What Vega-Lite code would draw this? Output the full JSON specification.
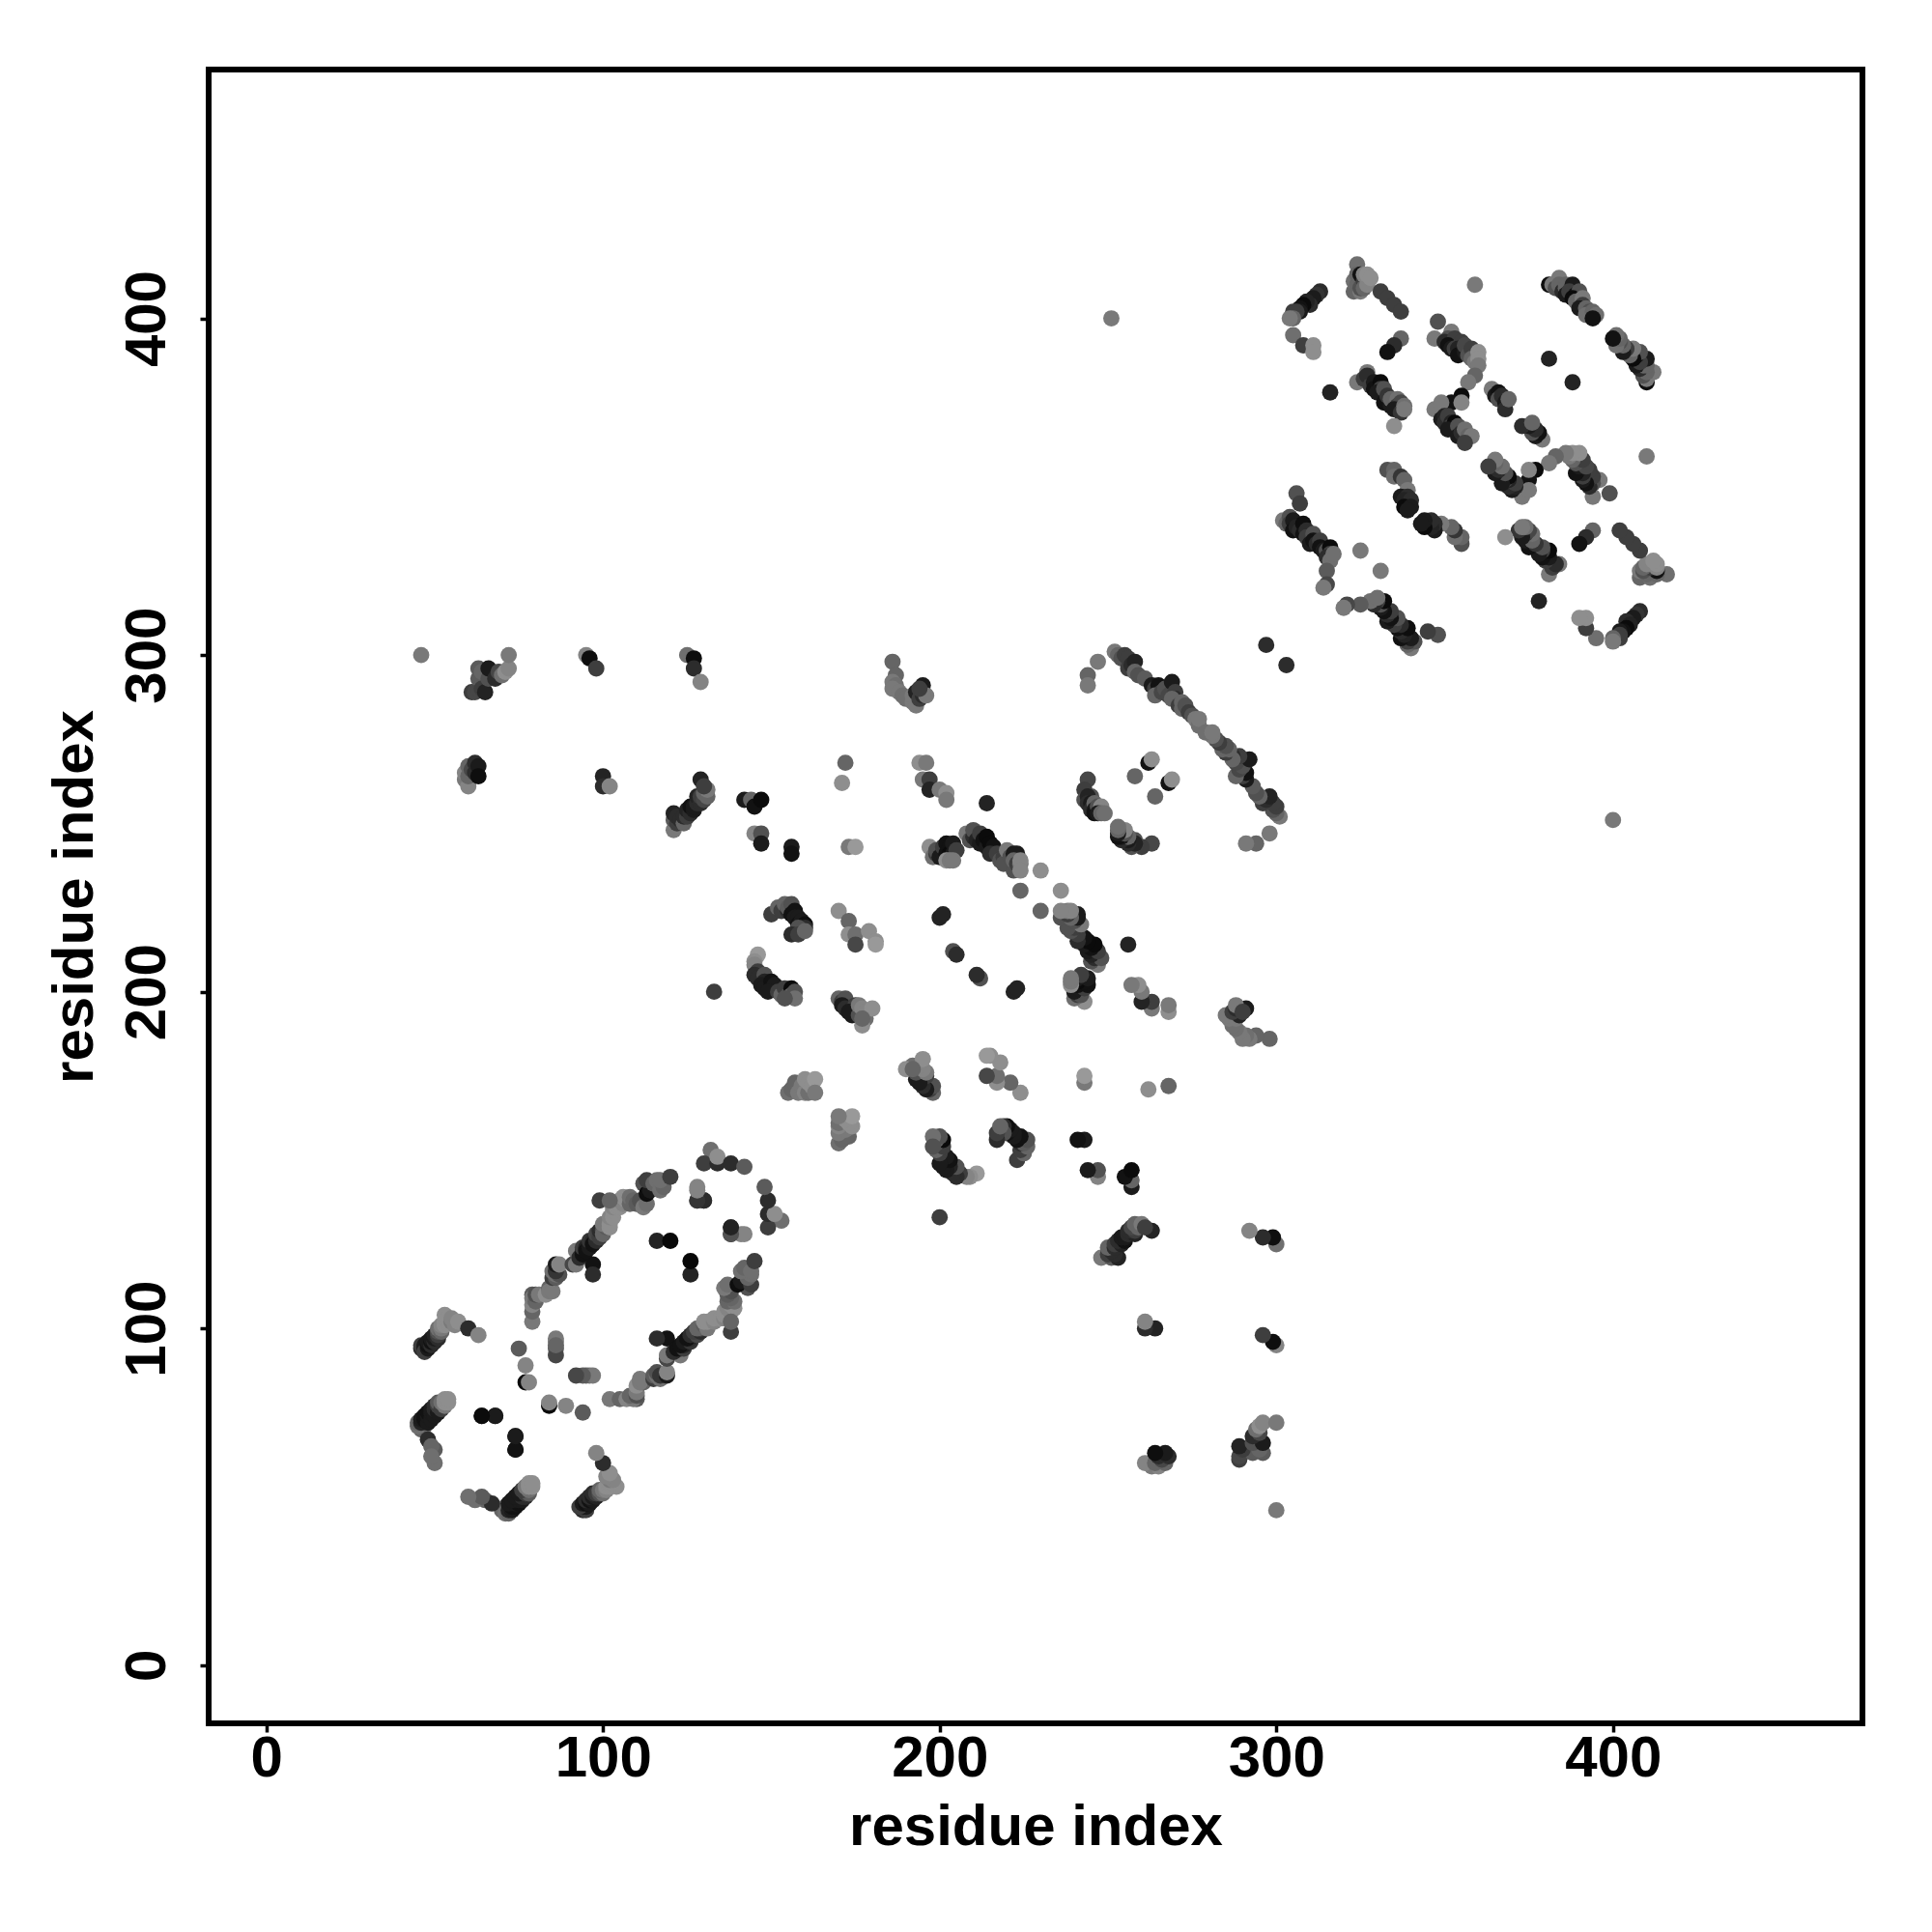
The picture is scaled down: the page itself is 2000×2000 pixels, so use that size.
{"$schema":"https://vega.github.io/schema/vega-lite/v6.json","width":1712,"height":1712,"autosize":{"type":"none"},"padding":{"left":216,"top":72,"right":72,"bottom":216},"background":"white",
"config":{"view":{"stroke":"black","strokeWidth":6},"axis":{"grid":false,"domain":false,"labelFont":"Liberation Sans","labelFontWeight":"bold","labelFontSize":60,"labelColor":"black","titleFont":"Liberation Sans","titleFontWeight":"bold","titleFontSize":60,"titleColor":"black","tickColor":"black","tickWidth":3.5,"tickSize":9}},
"data":{"values":[
{"i":46,"j":94,"d":0.2},{"i":46,"j":95,"d":0.3},{"i":47,"j":94,"d":0.1},{"i":47,"j":95,"d":0.1},{"i":47,"j":93,"d":0.3},{"i":48,"j":94,"d":0.1},{"i":48,"j":95,"d":0.05},{"i":48,"j":96,"d":0.1},{"i":49,"j":95,"d":0.2},{"i":49,"j":96,"d":0.05},{"i":49,"j":97,"d":0.1},{"i":50,"j":96,"d":0.2},{"i":50,"j":97,"d":0.1},{"i":50,"j":98,"d":0.15},{"i":51,"j":97,"d":0.2},{"i":51,"j":98,"d":0.3},{"i":51,"j":99,"d":0.4},{"i":51,"j":100,"d":0.55},{"i":52,"j":99,"d":0.5},{"i":52,"j":100,"d":0.6},{"i":52,"j":101,"d":0.65},{"i":53,"j":101,"d":0.7},{"i":53,"j":102,"d":0.7},{"i":53,"j":104,"d":0.7},{"i":54,"j":102,"d":0.7},{"i":54,"j":103,"d":0.7},{"i":55,"j":102,"d":0.6},{"i":55,"j":103,"d":0.65},{"i":56,"j":101,"d":0.65},{"i":57,"j":102,"d":0.7},{"i":60,"j":100,"d":0.2},{"i":63,"j":98,"d":0.65},
{"i":46,"j":70,"d":0.5},{"i":47,"j":71,"d":0.5},{"i":45,"j":71,"d":0.55},{"i":45,"j":72,"d":0.5},{"i":46,"j":72,"d":0.15},{"i":46,"j":73,"d":0.1},{"i":47,"j":73,"d":0.05},{"i":47,"j":74,"d":0.05},{"i":48,"j":72,"d":0.1},{"i":48,"j":74,"d":0.1},{"i":48,"j":75,"d":0.05},{"i":49,"j":73,"d":0.1},{"i":49,"j":75,"d":0.1},{"i":49,"j":76,"d":0.1},{"i":50,"j":74,"d":0.1},{"i":50,"j":76,"d":0.2},{"i":50,"j":77,"d":0.2},{"i":51,"j":75,"d":0.1},{"i":51,"j":77,"d":0.3},{"i":51,"j":78,"d":0.45},{"i":52,"j":76,"d":0.3},{"i":52,"j":78,"d":0.55},{"i":53,"j":77,"d":0.6},{"i":53,"j":78,"d":0.7},{"i":53,"j":79,"d":0.7},{"i":54,"j":78,"d":0.7},{"i":54,"j":79,"d":0.7},{"i":48,"j":67,"d":0.2},{"i":50,"j":64,"d":0.45},{"i":50,"j":60,"d":0.55},{"i":64,"j":74,"d":0.05},{"i":68,"j":74,"d":0.1},{"i":74,"j":68,"d":0.1},{"i":74,"j":64,"d":0.02},
{"i":75,"j":94,"d":0.45},{"i":77,"j":84,"d":0.02},{"i":77,"j":89,"d":0.65},{"i":78,"j":84,"d":0.65},{"i":86,"j":97,"d":0.6},{"i":86,"j":94,"d":0.45},{"i":86,"j":92,"d":0.35},
{"i":79,"j":102,"d":0.6},{"i":79,"j":105,"d":0.5},{"i":79,"j":107,"d":0.65},{"i":79,"j":110,"d":0.45},{"i":79,"j":109,"d":0.6},{"i":80,"j":108,"d":0.5},{"i":80,"j":110,"d":0.4},{"i":81,"j":110,"d":0.6},{"i":83,"j":110,"d":0.7},{"i":84,"j":112,"d":0.5},{"i":84,"j":111,"d":0.6},{"i":85,"j":111,"d":0.6},{"i":85,"j":115,"d":0.3},{"i":86,"j":115,"d":0.45},{"i":86,"j":116,"d":0.55},{"i":85,"j":117,"d":0.55},{"i":87,"j":116,"d":0.4},{"i":86,"j":117,"d":0.25},{"i":86,"j":119,"d":0.1},{"i":87,"j":119,"d":0.65},{"i":91,"j":119,"d":0.35},{"i":92,"j":119,"d":0.6},{"i":92,"j":123,"d":0.6},{"i":97,"j":119,"d":0.05},{"i":97,"j":116,"d":0.2},
{"i":93,"j":121,"d":0.2},{"i":94,"j":123,"d":0.1},{"i":94,"j":122,"d":0.05},{"i":94,"j":124,"d":0.3},{"i":95,"j":124,"d":0.15},{"i":95,"j":123,"d":0.05},{"i":96,"j":125,"d":0.05},{"i":96,"j":124,"d":0.1},{"i":96,"j":126,"d":0.25},{"i":97,"j":126,"d":0.2},{"i":97,"j":125,"d":0.05},{"i":98,"j":127,"d":0.1},{"i":98,"j":126,"d":0.2},{"i":98,"j":128,"d":0.35},{"i":99,"j":128,"d":0.35},{"i":99,"j":127,"d":0.3},{"i":99,"j":129,"d":0.2},{"i":100,"j":129,"d":0.4},{"i":100,"j":128,"d":0.5},{"i":101,"j":130,"d":0.45},{"i":100,"j":131,"d":0.6},{"i":102,"j":130,"d":0.7},{"i":102,"j":131,"d":0.7},{"i":102,"j":133,"d":0.65},{"i":103,"j":133,"d":0.7},{"i":103,"j":135,"d":0.7},{"i":103,"j":136,"d":0.65},{"i":104,"j":136,"d":0.7},{"i":105,"j":136,"d":0.7},{"i":105,"j":138,"d":0.65},{"i":106,"j":137,"d":0.65},{"i":106,"j":139,"d":0.7},{"i":107,"j":138,"d":0.7},{"i":99,"j":138,"d":0.3},{"i":102,"j":138,"d":0.5},{"i":108,"j":137,"d":0.5},{"i":108,"j":139,"d":0.55},{"i":109,"j":138,"d":0.5},{"i":110,"j":137,"d":0.45},{"i":111,"j":138,"d":0.4},{"i":112,"j":136,"d":0.6},{"i":113,"j":137,"d":0.55},{"i":112,"j":143,"d":0.4},{"i":113,"j":140,"d":0.03},{"i":114,"j":141,"d":0.1},{"i":113,"j":144,"d":0.3},{"i":115,"j":143,"d":0.5},{"i":116,"j":144,"d":0.55},{"i":117,"j":141,"d":0.55},{"i":118,"j":142,"d":0.5},{"i":117,"j":144,"d":0.55},{"i":120,"j":145,"d":0.3},
{"i":128,"j":142,"d":0.65},{"i":128,"j":138,"d":0.4},{"i":130,"j":138,"d":0.15},{"i":116,"j":126,"d":0.15},{"i":120,"j":126,"d":0.01},{"i":132,"j":153,"d":0.55},{"i":130,"j":149,"d":0.3},{"i":134,"j":149,"d":0.2},{"i":134,"j":151,"d":0.7},{"i":138,"j":149,"d":0.2},{"i":142,"j":148,"d":0.45},{"i":138,"j":130,"d":0.2},{"i":138,"j":128,"d":0.25},{"i":141,"j":128,"d":0.65},
{"i":46,"j":300,"d":0.6},{"i":61,"j":289,"d":0.3},{"i":62,"j":289,"d":0.35},{"i":63,"j":290,"d":0.35},{"i":63,"j":293,"d":0.45},{"i":63,"j":296,"d":0.45},{"i":64,"j":290,"d":0.3},{"i":64,"j":295,"d":0.5},{"i":65,"j":289,"d":0.15},{"i":66,"j":293,"d":0.4},{"i":66,"j":296,"d":0.1},{"i":68,"j":293,"d":0.2},{"i":69,"j":295,"d":0.35},{"i":70,"j":294,"d":0.55},{"i":71,"j":295,"d":0.7},{"i":72,"j":296,"d":0.65},{"i":72,"j":300,"d":0.6},
{"i":59,"j":263,"d":0.6},{"i":59,"j":265,"d":0.65},{"i":60,"j":261,"d":0.65},{"i":60,"j":264,"d":0.5},{"i":60,"j":267,"d":0.5},{"i":61,"j":266,"d":0.35},{"i":62,"j":265,"d":0.2},{"i":62,"j":268,"d":0.2},{"i":63,"j":267,"d":0.1},{"i":63,"j":264,"d":0.03},{"i":95,"j":300,"d":0.65},{"i":96,"j":299,"d":0.03},{"i":98,"j":296,"d":0.3},{"i":100,"j":264,"d":0.15},{"i":100,"j":261,"d":0.2},{"i":102,"j":261,"d":0.65},{"i":125,"j":300,"d":0.55},{"i":127,"j":299,"d":0.03},{"i":127,"j":296,"d":0.2},{"i":129,"j":292,"d":0.65},
{"i":121,"j":248,"d":0.6},{"i":121,"j":251,"d":0.45},{"i":121,"j":253,"d":0.15},{"i":122,"j":250,"d":0.3},{"i":122,"j":252,"d":0.2},{"i":123,"j":251,"d":0.2},{"i":124,"j":250,"d":0.5},{"i":124,"j":252,"d":0.2},{"i":125,"j":252,"d":0.3},{"i":125,"j":254,"d":0.15},{"i":126,"j":253,"d":0.2},{"i":126,"j":255,"d":0.05},{"i":127,"j":254,"d":0.1},{"i":127,"j":255,"d":0.1},{"i":128,"j":256,"d":0.2},{"i":128,"j":258,"d":0.15},{"i":129,"j":256,"d":0.2},{"i":129,"j":258,"d":0.3},{"i":130,"j":257,"d":0.35},{"i":130,"j":259,"d":0.5},{"i":131,"j":258,"d":0.5},{"i":131,"j":260,"d":0.6},{"i":129,"j":263,"d":0.15},{"i":130,"j":261,"d":0.3},
{"i":142,"j":257,"d":0.1},{"i":144,"j":257,"d":0.5},{"i":145,"j":255,"d":0.05},{"i":147,"j":257,"d":0.02},{"i":145,"j":247,"d":0.65},{"i":147,"j":247,"d":0.4},{"i":147,"j":244,"d":0.1},{"i":156,"j":243,"d":0.1},{"i":156,"j":241,"d":0.05},{"i":172,"j":268,"d":0.5},{"i":171,"j":262,"d":0.7},{"i":173,"j":243,"d":0.6},{"i":175,"j":243,"d":0.75},
{"i":194,"j":268,"d":0.7},{"i":196,"j":268,"d":0.6},{"i":195,"j":263,"d":0.6},{"i":197,"j":263,"d":0.3},{"i":197,"j":260,"d":0.15},{"i":200,"j":260,"d":0.6},{"i":202,"j":259,"d":0.7},{"i":202,"j":257,"d":0.6},{"i":214,"j":256,"d":0.15},
{"i":197,"j":243,"d":0.7},{"i":198,"j":240,"d":0.55},{"i":199,"j":241,"d":0.3},{"i":199,"j":242,"d":0.4},{"i":200,"j":240,"d":0.1},{"i":201,"j":241,"d":0.1},{"i":201,"j":243,"d":0.3},{"i":202,"j":241,"d":0.05},{"i":202,"j":244,"d":0.05},{"i":203,"j":243,"d":0.05},{"i":203,"j":241,"d":0.02},{"i":204,"j":244,"d":0.1},{"i":204,"j":241,"d":0.1},{"i":205,"j":242,"d":0.3},{"i":202,"j":239,"d":0.7},{"i":203,"j":239,"d":0.6},{"i":204,"j":239,"d":0.6},
{"i":208,"j":247,"d":0.6},{"i":209,"j":245,"d":0.4},{"i":210,"j":246,"d":0.2},{"i":210,"j":248,"d":0.4},{"i":211,"j":245,"d":0.15},{"i":212,"j":244,"d":0.1},{"i":212,"j":247,"d":0.3},{"i":213,"j":245,"d":0.05},{"i":214,"j":243,"d":0.1},{"i":214,"j":246,"d":0.02},{"i":215,"j":244,"d":0.02},{"i":216,"j":242,"d":0.1},{"i":216,"j":243,"d":0.05},{"i":215,"j":241,"d":0.2},{"i":217,"j":241,"d":0.3},{"i":218,"j":239,"d":0.4},{"i":219,"j":240,"d":0.3},{"i":219,"j":238,"d":0.4},{"i":220,"j":242,"d":0.6},{"i":221,"j":240,"d":0.4},{"i":222,"j":241,"d":0.1},{"i":223,"j":241,"d":0.1},{"i":222,"j":236,"d":0.4},{"i":222,"j":239,"d":0.5},{"i":223,"j":238,"d":0.3},{"i":224,"j":238,"d":0.6},{"i":224,"j":239,"d":0.65},{"i":224,"j":236,"d":0.65},{"i":230,"j":236,"d":0.7},{"i":224,"j":230,"d":0.5},
{"i":150,"j":223,"d":0.3},{"i":152,"j":225,"d":0.5},{"i":153,"j":224,"d":0.3},{"i":154,"j":226,"d":0.5},{"i":155,"j":224,"d":0.2},{"i":155,"j":225,"d":0.45},{"i":156,"j":226,"d":0.4},{"i":156,"j":223,"d":0.05},{"i":157,"j":224,"d":0.05},{"i":157,"j":222,"d":0.1},{"i":158,"j":222,"d":0.1},{"i":158,"j":220,"d":0.05},{"i":159,"j":219,"d":0.03},{"i":159,"j":221,"d":0.1},{"i":160,"j":220,"d":0.03},{"i":160,"j":219,"d":0.2},{"i":158,"j":219,"d":0.4},{"i":156,"j":217,"d":0.2},{"i":158,"j":217,"d":0.3},{"i":160,"j":218,"d":0.5},
{"i":170,"j":224,"d":0.7},{"i":173,"j":221,"d":0.5},{"i":173,"j":217,"d":0.7},{"i":175,"j":217,"d":0.55},{"i":175,"j":214,"d":0.35},{"i":179,"j":218,"d":0.7},{"i":181,"j":215,"d":0.7},{"i":181,"j":214,"d":0.75},
{"i":146,"j":211,"d":0.75},{"i":145,"j":209,"d":0.7},{"i":145,"j":208,"d":0.65},{"i":146,"j":206,"d":0.3},{"i":145,"j":205,"d":0.2},{"i":146,"j":204,"d":0.2},{"i":148,"j":205,"d":0.4},{"i":148,"j":203,"d":0.15},{"i":147,"j":202,"d":0.1},{"i":148,"j":201,"d":0.1},{"i":150,"j":203,"d":0.05},{"i":150,"j":201,"d":0.05},{"i":151,"j":202,"d":0.1},{"i":149,"j":200,"d":0.1},{"i":152,"j":200,"d":0.3},{"i":153,"j":199,"d":0.5},{"i":154,"j":201,"d":0.3},{"i":155,"j":199,"d":0.4},{"i":156,"j":201,"d":0.02},{"i":156,"j":199,"d":0.5},{"i":157,"j":200,"d":0.4},{"i":157,"j":198,"d":0.55},{"i":154,"j":198,"d":0.4},{"i":133,"j":200,"d":0.3},
{"i":170,"j":198,"d":0.5},{"i":171,"j":197,"d":0.3},{"i":172,"j":198,"d":0.4},{"i":171,"j":196,"d":0.1},{"i":172,"j":195,"d":0.2},{"i":174,"j":195,"d":0.2},{"i":174,"j":193,"d":0.1},{"i":175,"j":196,"d":0.3},{"i":175,"j":194,"d":0.3},{"i":173,"j":194,"d":0.1},{"i":176,"j":193,"d":0.4},{"i":176,"j":196,"d":0.6},{"i":177,"j":195,"d":0.65},{"i":178,"j":194,"d":0.65},{"i":178,"j":192,"d":0.55},{"i":180,"j":195,"d":0.7},{"i":177,"j":190,"d":0.7},{"i":177,"j":192,"d":0.5},
{"i":155,"j":170,"d":0.55},{"i":156,"j":171,"d":0.5},{"i":157,"j":173,"d":0.5},{"i":158,"j":170,"d":0.6},{"i":159,"j":172,"d":0.6},{"i":160,"j":170,"d":0.65},{"i":160,"j":174,"d":0.7},{"i":161,"j":170,"d":0.55},{"i":161,"j":173,"d":0.7},{"i":162,"j":172,"d":0.7},{"i":163,"j":174,"d":0.75},{"i":163,"j":170,"d":0.6},
{"i":244,"j":263,"d":0.35},{"i":243,"j":260,"d":0.3},{"i":243,"j":257,"d":0.4},{"i":245,"j":258,"d":0.4},{"i":244,"j":258,"d":0.15},{"i":244,"j":256,"d":0.2},{"i":245,"j":256,"d":0.1},{"i":245,"j":254,"d":0.2},{"i":246,"j":256,"d":0.5},{"i":246,"j":254,"d":0.1},{"i":246,"j":253,"d":0.05},{"i":247,"j":255,"d":0.4},{"i":248,"j":255,"d":0.65},{"i":247,"j":253,"d":0.1},{"i":248,"j":253,"d":0.5},{"i":249,"j":253,"d":0.55},{"i":258,"j":264,"d":0.5},{"i":262,"j":268,"d":0.05},{"i":263,"j":269,"d":0.7},
{"i":252,"j":301,"d":0.6},{"i":253,"j":300,"d":0.5},{"i":254,"j":299,"d":0.4},{"i":255,"j":300,"d":0.3},{"i":256,"j":299,"d":0.3},{"i":256,"j":296,"d":0.3},{"i":257,"j":297,"d":0.2},{"i":258,"j":298,"d":0.15},{"i":258,"j":295,"d":0.5},{"i":259,"j":294,"d":0.4},{"i":261,"j":293,"d":0.45},{"i":263,"j":291,"d":0.1},{"i":264,"j":290,"d":0.3},{"i":265,"j":291,"d":0.05},{"i":264,"j":288,"d":0.5},{"i":266,"j":289,"d":0.35},{"i":267,"j":290,"d":0.4},{"i":268,"j":288,"d":0.35},{"i":269,"j":292,"d":0.1},{"i":270,"j":289,"d":0.3},{"i":270,"j":287,"d":0.2},{"i":269,"j":287,"d":0.5},{"i":271,"j":285,"d":0.3},{"i":272,"j":286,"d":0.5},{"i":272,"j":284,"d":0.5},{"i":273,"j":285,"d":0.4},{"i":274,"j":283,"d":0.3},{"i":275,"j":282,"d":0.4},{"i":276,"j":281,"d":0.6},{"i":277,"j":279,"d":0.55},{"i":277,"j":281,"d":0.6},
{"i":244,"j":294,"d":0.5},{"i":247,"j":298,"d":0.6},{"i":244,"j":291,"d":0.6},
{"i":186,"j":298,"d":0.5},{"i":187,"j":294,"d":0.5},{"i":186,"j":292,"d":0.6},{"i":187,"j":291,"d":0.55},{"i":186,"j":290,"d":0.6},{"i":188,"j":289,"d":0.6},{"i":189,"j":288,"d":0.55},{"i":190,"j":287,"d":0.55},{"i":192,"j":286,"d":0.6},{"i":193,"j":285,"d":0.6},{"i":192,"j":288,"d":0.6},{"i":193,"j":289,"d":0.15},{"i":195,"j":291,"d":0.1},{"i":194,"j":287,"d":0.3},{"i":195,"j":288,"d":0.2},{"i":196,"j":288,"d":0.6},{"i":194,"j":290,"d":0.3},
{"i":313,"j":408,"d":0.2},{"i":312,"j":407,"d":0.25},{"i":311,"j":406,"d":0.1},{"i":310,"j":404,"d":0.2},{"i":309,"j":405,"d":0.15},{"i":308,"j":404,"d":0.02},{"i":307,"j":403,"d":0.05},{"i":307,"j":402,"d":0.1},{"i":306,"j":402,"d":0.3},{"i":305,"j":402,"d":0.3},{"i":305,"j":400,"d":0.5},{"i":304,"j":400,"d":0.6},{"i":305,"j":395,"d":0.55},{"i":308,"j":392,"d":0.3},{"i":311,"j":392,"d":0.7},{"i":311,"j":390,"d":0.7},{"i":316,"j":378,"d":0.15},
{"i":324,"j":416,"d":0.55},{"i":323,"j":408,"d":0.5},{"i":323,"j":411,"d":0.55},{"i":324,"j":410,"d":0.5},{"i":324,"j":413,"d":0.5},{"i":325,"j":408,"d":0.6},{"i":325,"j":409,"d":0.4},{"i":325,"j":413,"d":0.05},{"i":326,"j":411,"d":0.3},{"i":326,"j":409,"d":0.5},{"i":326,"j":413,"d":0.65},{"i":327,"j":410,"d":0.65},{"i":327,"j":413,"d":0.7},{"i":328,"j":412,"d":0.7},{"i":331,"j":408,"d":0.3},{"i":333,"j":406,"d":0.3},{"i":335,"j":404,"d":0.3},{"i":337,"j":402,"d":0.3},{"i":337,"j":394,"d":0.5},{"i":335,"j":392,"d":0.2},{"i":333,"j":390,"d":0.05},
{"i":324,"j":381,"d":0.6},{"i":327,"j":384,"d":0.6},{"i":326,"j":382,"d":0.3},{"i":327,"j":383,"d":0.2},{"i":328,"j":380,"d":0.3},{"i":329,"j":381,"d":0.1},{"i":329,"j":379,"d":0.05},{"i":331,"j":381,"d":0.02},{"i":331,"j":379,"d":0.3},{"i":330,"j":378,"d":0.1},{"i":332,"j":379,"d":0.4},{"i":332,"j":375,"d":0.05},{"i":333,"j":377,"d":0.25},{"i":334,"j":374,"d":0.1},{"i":334,"j":376,"d":0.5},{"i":336,"j":376,"d":0.55},{"i":336,"j":374,"d":0.3},{"i":337,"j":375,"d":0.35},{"i":335,"j":373,"d":0.1},{"i":337,"j":372,"d":0.25},{"i":338,"j":374,"d":0.55},{"i":338,"j":373,"d":0.6},{"i":335,"j":368,"d":0.7},
{"i":348,"j":399,"d":0.4},{"i":347,"j":394,"d":0.6},{"i":352,"j":396,"d":0.6},{"i":351,"j":394,"d":0.4},{"i":350,"j":393,"d":0.2},{"i":353,"j":394,"d":0.3},{"i":351,"j":392,"d":0.05},{"i":352,"j":391,"d":0.1},{"i":353,"j":391,"d":0.3},{"i":355,"j":393,"d":0.3},{"i":354,"j":391,"d":0.15},{"i":354,"j":389,"d":0.05},{"i":356,"j":390,"d":0.1},{"i":356,"j":392,"d":0.35},{"i":357,"j":389,"d":0.4},{"i":358,"j":391,"d":0.3},{"i":358,"j":388,"d":0.5},{"i":359,"j":387,"d":0.6},{"i":360,"j":390,"d":0.7},{"i":360,"j":388,"d":0.7},{"i":360,"j":386,"d":0.6},{"i":359,"j":383,"d":0.5},{"i":357,"j":381,"d":0.6},{"i":355,"j":377,"d":0.02},{"i":352,"j":375,"d":0.05},{"i":355,"j":375,"d":0.65},
{"i":348,"j":373,"d":0.6},{"i":347,"j":373,"d":0.6},{"i":349,"j":375,"d":0.6},{"i":349,"j":370,"d":0.1},{"i":350,"j":371,"d":0.15},{"i":350,"j":369,"d":0.2},{"i":351,"j":371,"d":0.3},{"i":352,"j":369,"d":0.15},{"i":352,"j":368,"d":0.3},{"i":353,"j":369,"d":0.02},{"i":353,"j":367,"d":0.05},{"i":351,"j":367,"d":0.1},{"i":354,"j":368,"d":0.4},{"i":354,"j":365,"d":0.1},{"i":355,"j":366,"d":0.2},{"i":356,"j":365,"d":0.2},{"i":356,"j":367,"d":0.55},{"i":357,"j":365,"d":0.5},{"i":358,"j":365,"d":0.6},{"i":356,"j":363,"d":0.3},
{"i":364,"j":379,"d":0.6},{"i":365,"j":377,"d":0.1},{"i":366,"j":378,"d":0.05},{"i":366,"j":376,"d":0.4},{"i":367,"j":377,"d":0.2},{"i":368,"j":375,"d":0.1},{"i":368,"j":373,"d":0.2},{"i":369,"j":376,"d":0.5},
{"i":306,"j":348,"d":0.4},{"i":307,"j":345,"d":0.3},{"i":302,"j":340,"d":0.6},{"i":303,"j":339,"d":0.5},{"i":304,"j":341,"d":0.4},{"i":304,"j":339,"d":0.3},{"i":305,"j":340,"d":0.1},{"i":305,"j":337,"d":0.05},{"i":306,"j":338,"d":0.15},{"i":307,"j":337,"d":0.2},{"i":308,"j":339,"d":0.03},{"i":308,"j":336,"d":0.05},{"i":309,"j":337,"d":0.2},{"i":309,"j":335,"d":0.3},{"i":311,"j":336,"d":0.4},{"i":310,"j":333,"d":0.1},{"i":311,"j":334,"d":0.05},{"i":312,"j":333,"d":0.2},{"i":313,"j":334,"d":0.3},{"i":313,"j":332,"d":0.05},{"i":314,"j":331,"d":0.1},{"i":315,"j":331,"d":0.4},{"i":316,"j":332,"d":0.02},{"i":316,"j":330,"d":0.3},{"i":315,"j":329,"d":0.2},{"i":316,"j":328,"d":0.55},{"i":317,"j":330,"d":0.55},{"i":315,"j":325,"d":0.45},{"i":315,"j":321,"d":0.35},{"i":314,"j":320,"d":0.6},{"i":325,"j":331,"d":0.6},
{"i":297,"j":303,"d":0.2},
{"i":333,"j":355,"d":0.4},{"i":335,"j":355,"d":0.5},{"i":335,"j":353,"d":0.55},{"i":337,"j":353,"d":0.25},{"i":338,"j":352,"d":0.5},{"i":339,"j":349,"d":0.6},{"i":337,"j":347,"d":0.1},{"i":339,"j":347,"d":0.2},{"i":338,"j":346,"d":0.15},{"i":340,"j":346,"d":0.2},{"i":338,"j":344,"d":0.02},{"i":340,"j":344,"d":0.1},{"i":339,"j":343,"d":0.1},
{"i":381,"j":410,"d":0.03},{"i":382,"j":410,"d":0.6},{"i":383,"j":409,"d":0.4},{"i":384,"j":412,"d":0.6},{"i":384,"j":410,"d":0.5},{"i":385,"j":408,"d":0.2},{"i":386,"j":410,"d":0.5},{"i":386,"j":409,"d":0.5},{"i":388,"j":410,"d":0.1},{"i":386,"j":407,"d":0.1},{"i":387,"j":408,"d":0.3},{"i":389,"j":407,"d":0.05},{"i":390,"j":408,"d":0.4},{"i":388,"j":406,"d":0.02},{"i":389,"j":405,"d":0.5},{"i":391,"j":406,"d":0.6},{"i":391,"j":404,"d":0.3},{"i":390,"j":403,"d":0.1},{"i":392,"j":403,"d":0.5},{"i":393,"j":402,"d":0.4},{"i":393,"j":401,"d":0.1},{"i":392,"j":401,"d":0.55},{"i":394,"j":402,"d":0.5},{"i":395,"j":401,"d":0.55},{"i":394,"j":400,"d":0.05},
{"i":381,"j":388,"d":0.15},{"i":359,"j":410,"d":0.6},{"i":251,"j":400,"d":0.6},
{"i":200,"j":222,"d":0.15},{"i":204,"j":212,"d":0.4},{"i":205,"j":211,"d":0.2},{"i":201,"j":223,"d":0.15},
{"i":65,"j":49,"d":0.5},{"i":62,"j":49,"d":0.55},{"i":96,"j":86,"d":0.6},{"i":95,"j":86,"d":0.5}
]},
"encoding":{"color":{"field":"d","type":"quantitative","scale":{"domain":[0,0.75],"range":["#050505","#999999"]},"legend":null}},
"layer":[
{"mark":{"type":"circle","opacity":1,"size":285},"encoding":{
"x":{"field":"i","type":"quantitative","scale":{"domain":[-17.13,474.1],"nice":false,"zero":false},"axis":{"values":[0,100,200,300,400],"title":"residue index","labelPadding":-2,"titlePadding":12,"labelFlush":false,"labelOverlap":false}},
"y":{"field":"j","type":"quantitative","scale":{"domain":[-17.3,473.9],"nice":false,"zero":false},"axis":{"values":[0,100,200,300,400],"title":"residue index","labelAngle":270,"labelAlign":"center","labelBaseline":"bottom","labelPadding":24,"titlePadding":14,"labelFlush":false,"labelOverlap":false}}}},
{"mark":{"type":"circle","opacity":1,"size":285},"encoding":{
"x":{"field":"j","type":"quantitative"},
"y":{"field":"i","type":"quantitative"}}}
]}
